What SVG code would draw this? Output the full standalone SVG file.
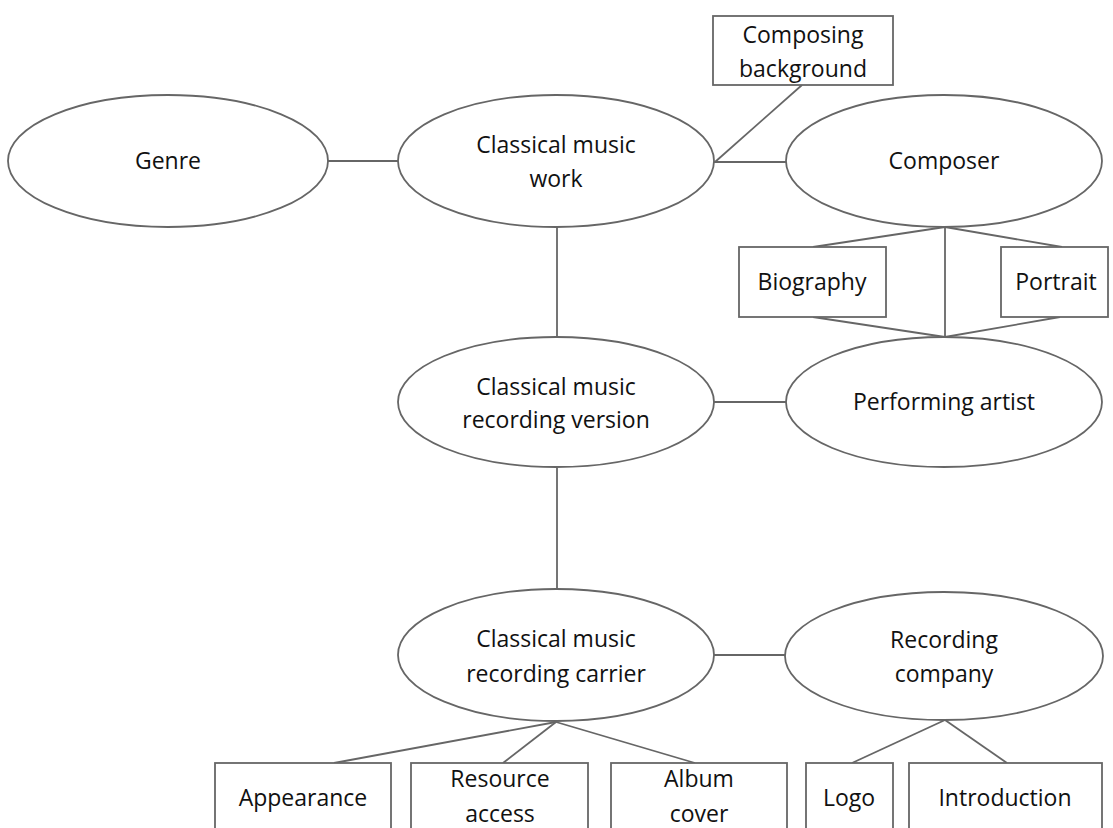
<svg xmlns="http://www.w3.org/2000/svg" width="1113" height="828" viewBox="0 0 1113 828">
<style>
.n{fill:#fff;stroke:#666;stroke-width:1.8}
.c line{stroke:#666;stroke-width:1.8}
text{font-family:"Open Sans","Liberation Sans",sans-serif;font-size:23px;fill:#111;text-anchor:middle}
</style>
<rect width="1113" height="828" fill="#fff"/>
<g id="connectors" class="c">
<line x1="328" y1="161" x2="398" y2="161"/>
<line x1="714" y1="162" x2="787" y2="162"/>
<line x1="715" y1="162" x2="802" y2="85"/>
<line x1="557" y1="227" x2="557" y2="337"/>
<line x1="714" y1="402" x2="787" y2="402"/>
<line x1="945" y1="227" x2="813" y2="247"/>
<line x1="945" y1="227" x2="1062" y2="247"/>
<line x1="945" y1="227" x2="945" y2="337"/>
<line x1="813" y1="317" x2="945" y2="337"/>
<line x1="1060" y1="317" x2="945" y2="337"/>
<line x1="557" y1="468" x2="557" y2="589"/>
<line x1="714" y1="655" x2="785" y2="655"/>
<line x1="556" y1="722" x2="334" y2="763"/>
<line x1="556" y1="722" x2="503" y2="763"/>
<line x1="556" y1="722" x2="695" y2="763"/>
<line x1="945" y1="720" x2="852" y2="763"/>
<line x1="945" y1="720" x2="1007" y2="763"/>
</g>
<g id="genre"><ellipse class="n" cx="168" cy="161" rx="160" ry="66"/><text x="168" y="169">Genre</text></g>
<g id="work"><ellipse class="n" cx="556" cy="161" rx="158" ry="66"/><text x="556" y="153">Classical music</text><text x="556" y="187">work</text></g>
<g id="composing-background"><rect class="n" x="713" y="16" width="180" height="69"/><text x="803" y="43">Composing</text><text x="803" y="77">background</text></g>
<g id="composer"><ellipse class="n" cx="944" cy="161" rx="158" ry="66"/><text x="944" y="169">Composer</text></g>
<g id="biography"><rect class="n" x="739" y="247" width="147" height="70"/><text x="812" y="290">Biography</text></g>
<g id="portrait"><rect class="n" x="1001" y="247" width="107" height="70"/><text x="1056" y="290">Portrait</text></g>
<g id="version"><ellipse class="n" cx="556" cy="402" rx="158" ry="65"/><text x="556" y="395">Classical music</text><text x="556" y="428">recording version</text></g>
<g id="performing-artist"><ellipse class="n" cx="944" cy="402" rx="158" ry="65"/><text x="944" y="410">Performing artist</text></g>
<g id="carrier"><ellipse class="n" cx="556" cy="655" rx="158" ry="66"/><text x="556" y="647">Classical music</text><text x="556" y="682">recording carrier</text></g>
<g id="recording-company"><ellipse class="n" cx="944" cy="656" rx="159" ry="64"/><text x="944" y="648">Recording</text><text x="944" y="682">company</text></g>
<g id="appearance"><rect class="n" x="215" y="763" width="176" height="80"/><text x="303" y="806">Appearance</text></g>
<g id="resource-access"><rect class="n" x="411" y="763" width="177" height="80"/><text x="500" y="787">Resource</text><text x="500" y="822">access</text></g>
<g id="album-cover"><rect class="n" x="611" y="763" width="176" height="80"/><text x="699" y="787">Album</text><text x="699" y="822">cover</text></g>
<g id="logo"><rect class="n" x="806" y="763" width="87" height="80"/><text x="849" y="806">Logo</text></g>
<g id="introduction"><rect class="n" x="909" y="763" width="193" height="80"/><text x="1005" y="806">Introduction</text></g>
</svg>
